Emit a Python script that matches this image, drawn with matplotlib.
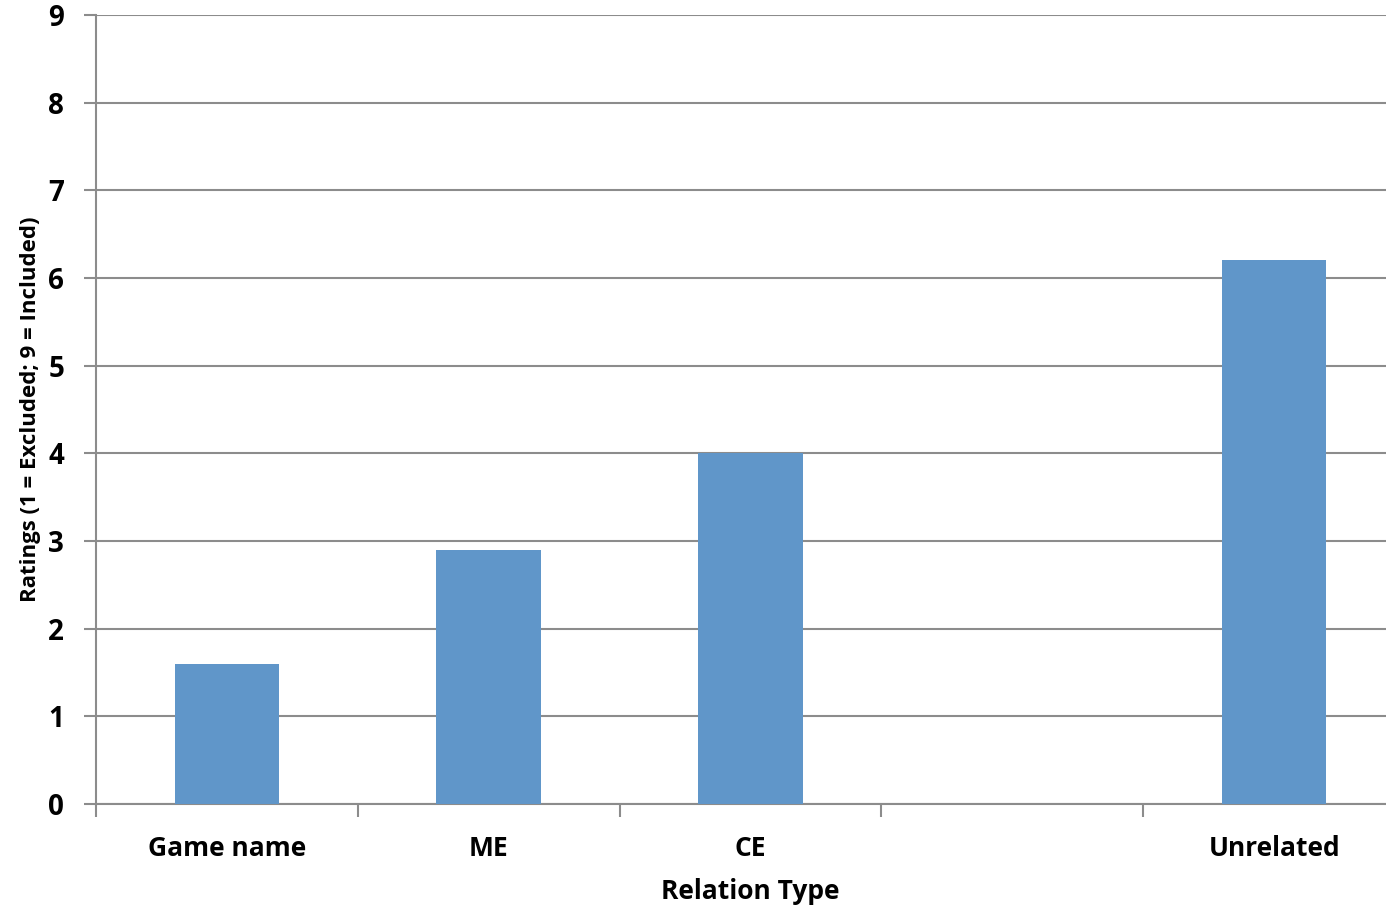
import numpy as np
import matplotlib
matplotlib.use("Agg")
from matplotlib import pyplot as plt

categories = ["Game name", "ME", "CE", "", "Unrelated"]
ratings = [1.6, 2.9, 4.0, np.nan, 6.2]
yticks = [0, 1, 2, 3, 4, 5, 6, 7, 8, 9]

plt.rcParams["font.family"] = ["Open Sans", "DejaVu Sans"]
plt.rcParams["font.weight"] = "bold"

grey = "#8c8c8c"

fig = plt.figure(figsize=(13.86, 9.15), dpi=100)
ax = fig.add_axes([96 / 1386, 111 / 915, 1309 / 1386, 789 / 915])

x = np.arange(len(categories))
ax.bar(x, ratings, width=0.4, color="#6096c9", zorder=3)

ax.set_xlim(-0.5, 4.5)
ax.set_ylim(0, 9)
ax.set_yticks(yticks)
ax.set_xticks(x)
ax.set_xticklabels(categories, fontsize=19, fontweight="bold")
ax.set_xticks(np.arange(-0.5, 4.6, 1), minor=True)
ax.tick_params(axis="x", which="major", length=0, pad=22)
ax.tick_params(axis="x", which="minor", length=9, width=1.5, color=grey, direction="out")
ax.tick_params(axis="y", length=9, width=1.5, color=grey, labelsize=20, pad=14)
for lab in ax.get_yticklabels():
    lab.set_fontweight("bold")

ax.grid(axis="y", color=grey, linewidth=1.5, zorder=0)
for side in ["top", "right"]:
    ax.spines[side].set_visible(False)
ax.spines["left"].set_color(grey)
ax.spines["left"].set_linewidth(1.5)
ax.spines["bottom"].set_color(grey)
ax.spines["bottom"].set_linewidth(1.5)

ax.set_xlabel("Relation Type", fontsize=19, fontweight="bold", labelpad=12)
ax.set_ylabel("Ratings (1 = Excluded; 9 = Included)", fontsize=16, fontweight="bold", labelpad=5)

plt.savefig("out.png", dpi=100)
